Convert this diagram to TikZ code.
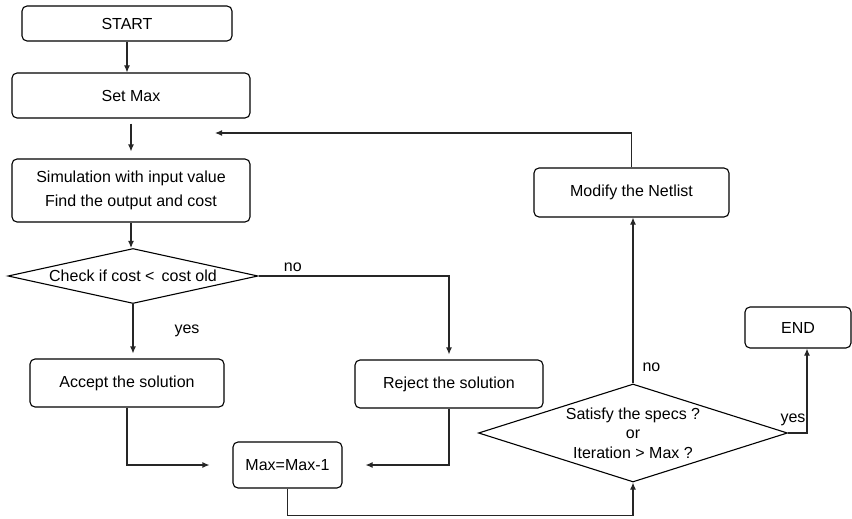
\documentclass[tikz,border=0pt]{standalone}
\usepackage{fontspec}
\setmainfont{Liberation Sans}
\usetikzlibrary{arrows.meta,positioning,shapes.geometric}

\begin{document}
\begin{tikzpicture}[x=1pt,y=-1pt,
 box/.style={rectangle,draw,rounded corners=5pt,align=center,line width=1.1pt,
             inner sep=2pt,font=\fontsize{16}{24}\selectfont},
 decision/.style={diamond,draw,line width=1.1pt,inner sep=0pt},
 txt/.style={font=\fontsize{16}{19.5}\selectfont,align=center,inner sep=1pt},
 arrow/.style={-{Latex[length=7pt,width=6pt]},line width=1.1pt,draw=black!85}
]
\useasboundingbox (0,0) rectangle (852,519);
\node[box,minimum width=210pt,minimum height=35pt] (start) at (127,23.5) {START};
\node[box,minimum width=238pt,minimum height=45pt] (setmax) at (131,95.5) {Set Max};
\node[box,minimum width=238pt,minimum height=63pt] (sim) at (131,190.5) {Simulation with input value\\Find the output and cost};
\node[decision,minimum width=250pt,minimum height=55pt,
      label={[txt]center:Check if cost <\, cost old}] (check) at (133,276) {};
\node[box,minimum width=194pt,minimum height=48pt] (accept) at (127,383) {Accept the solution};
\node[box,minimum width=188pt,minimum height=48pt] (reject) at (449,384) {Reject the solution};
\node[box,minimum width=109pt,minimum height=46pt] (dec) at (287.5,465) {Max=Max-1};
\node[decision,minimum width=309pt,minimum height=98pt,
      label={[txt]center:Satisfy the specs ?\\or\\Iteration > Max ?}] (specs) at (633,433) {};
\node[box,minimum width=195pt,minimum height=49pt] (modify) at (631.5,192.5) {Modify the Netlist};
\node[box,minimum width=106pt,minimum height=41pt] (finish) at (798,327.5) {END};
\coordinate (back) at (215,133);
\draw[arrow] (start.south) -- (start.south |- setmax.north);
\draw[arrow,shorten <=5pt,shorten >=7pt] (setmax.south) -- (sim.north);
\draw[arrow] (sim.south) -- (sim.south |- check.north);
\draw[arrow,shorten >=5pt] (check.south) -- (check.south |- accept.north)
  node[txt,midway,right=40pt] {yes};
\draw[arrow,shorten >=5pt] (check.east) -| (reject.north)
  node[txt,pos=0.09,above=3pt] {no};
\draw[arrow,shorten >=23pt] (accept.south) |- (dec.west);
\draw[arrow,shorten >=23pt] (reject.south) |- (dec.east);
\draw[arrow] (dec.south) -- ++(0,27) -| (specs.south);
\draw[arrow] (specs.north) -- (specs.north |- modify.south)
  node[txt,pos=0.1,right=8pt] {no};
\draw[arrow] (specs.east) -| ([xshift=9pt]finish.south)
  node[txt,pos=0.58,left] {yes};
\draw[arrow] (modify.north) |- (back);
\end{tikzpicture}
\end{document}
